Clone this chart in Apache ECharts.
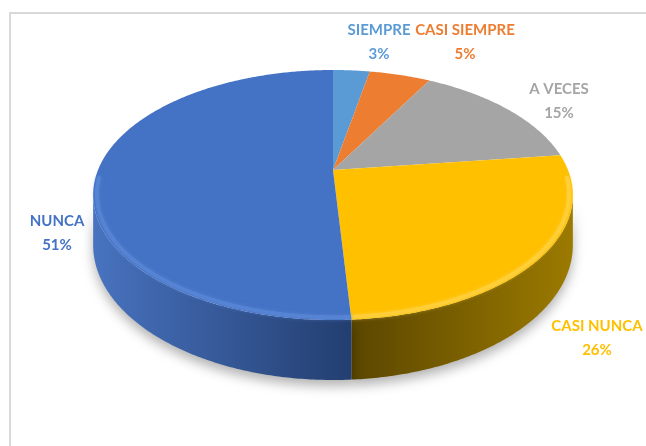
<!DOCTYPE html>
<html>
<head>
<meta charset="utf-8">
<script src="https://cdn.jsdelivr.net/npm/echarts@6/dist/echarts.min.js"></script>
<style>
html, body { margin: 0; padding: 0; background: #fff; }
#main { width: 646px; height: 446px; }
</style>
</head>
<body>
<div id="main"></div>
<script>
var categories = ['SIEMPRE', 'CASI SIEMPRE', 'A VECES', 'CASI NUNCA', 'NUNCA'];
var values = [3, 5, 15, 26, 51];
var percentLabels = ['3%', '5%', '15%', '26%', '51%'];

var topColors = ['#5b9bd5', '#ed7d31', '#a5a5a5', '#ffc000', '#4472c4'];
var sideColors = [['#4a7fb0', '#3a6590'], ['#c0621f', '#99501a'], ['#8a8a8a', '#6e6e6e'], ['#5a4600', '#9c7a00'], ['#4873bf', '#233e70']];
var rimColors = ['#7fb2e0', '#f29a5c', '#bdbdbd', '#ffd44d', '#5d8bd9'];
// label anchors (centre of the two-line block)
var labelPos = [[379, 42], [465, 42], [559, 101], [597, 338], [57, 233]];

// 3d pie geometry
var CX = 333, CY = 170, R = 235, RY = 120, P = 0.2, DEPTH = 48;
var FRONT0 = Math.acos(-P), FRONT1 = 2 * Math.PI - Math.acos(-P);

var total = values.reduce(function (s, v) { return s + v; }, 0);

function proj(a, d, k) {
  k = k || 1;
  var u = Math.sin(a) * k, v = -Math.cos(a) * k;
  var w = 1 - P * v;
  return [CX + R * u / w, CY + (RY * v + d) / w];
}

function arc(a0, a1, d, k) {
  var pts = [];
  var n = Math.max(2, Math.ceil((a1 - a0) / 0.01));
  for (var i = 0; i <= n; i++) {
    pts.push(proj(a0 + (a1 - a0) * i / n, d, k));
  }
  return pts;
}

function angles(idx) {
  var before = 0;
  for (var i = 0; i < idx; i++) before += values[i];
  var a0 = before / total * Math.PI * 2;
  var a1 = (before + values[idx]) / total * Math.PI * 2;
  return [a0, a1];
}

function renderSide(params, api) {
  var idx = params.dataIndex;
  var ang = angles(idx);
  var s0 = Math.max(ang[0], FRONT0), s1 = Math.min(ang[1], FRONT1);
  if (s1 <= s0) return;
  var pts = arc(s0, s1, 0).concat(arc(s0, s1, DEPTH).reverse());
  var xs = pts.map(function (p) { return p[0]; });
  var x0 = Math.min.apply(null, xs), x1 = Math.max.apply(null, xs);
  return {
    type: 'polygon',
    shape: { points: pts },
    style: {
      fill: new echarts.graphic.LinearGradient(x0, 0, x1, 0, [
        { offset: 0, color: sideColors[idx][0] },
        { offset: 1, color: sideColors[idx][1] }
      ], true),
      shadowBlur: 12,
      shadowOffsetY: 6,
      shadowColor: 'rgba(0,0,0,0.3)'
    }
  };
}

function renderTop(params, api) {
  var idx = params.dataIndex;
  var ang = angles(idx);
  var pts = [[CX, CY]].concat(arc(ang[0], ang[1], 0));
  var children = [{
    type: 'polygon',
    shape: { points: pts },
    style: { fill: topColors[idx] }
  }];
  var s0 = Math.max(ang[0], FRONT0 - 0.15), s1 = Math.min(ang[1], FRONT1 + 0.15);
  if (s1 > s0) {
    children.push({
      type: 'polyline',
      shape: { points: arc(s0, s1, 0, 0.985) },
      style: { stroke: rimColors[idx], lineWidth: 4, fill: null, opacity: 0.6, shadowBlur: 4, shadowColor: rimColors[idx] }
    });
  }
  children.push({
    type: 'text',
    x: labelPos[idx][0],
    y: labelPos[idx][1],
    style: {
      text: categories[idx] + '\n' + percentLabels[idx],
      fill: topColors[idx],
      font: 'bold 15px Lato',
      lineHeight: 24,
      align: 'center',
      verticalAlign: 'middle'
    }
  });
  return { type: 'group', children: children };
}

var chart = echarts.init(document.getElementById('main'));
var option = {
  backgroundColor: '#ffffff',
  animation: false,
  graphic: [{
    type: 'rect',
    shape: { x: 10, y: 13, width: 650, height: 450 },
    style: { fill: null, stroke: '#d9d9d9', lineWidth: 2 },
    z: 0
  }],
  series: [
    {
      type: 'custom',
      coordinateSystem: 'none',
      renderItem: renderSide,
      data: values,
      z: 1
    },
    {
      type: 'custom',
      coordinateSystem: 'none',
      renderItem: renderTop,
      data: values,
      z: 2
    }
  ]
};
chart.setOption(option);
</script>
</body>
</html>
